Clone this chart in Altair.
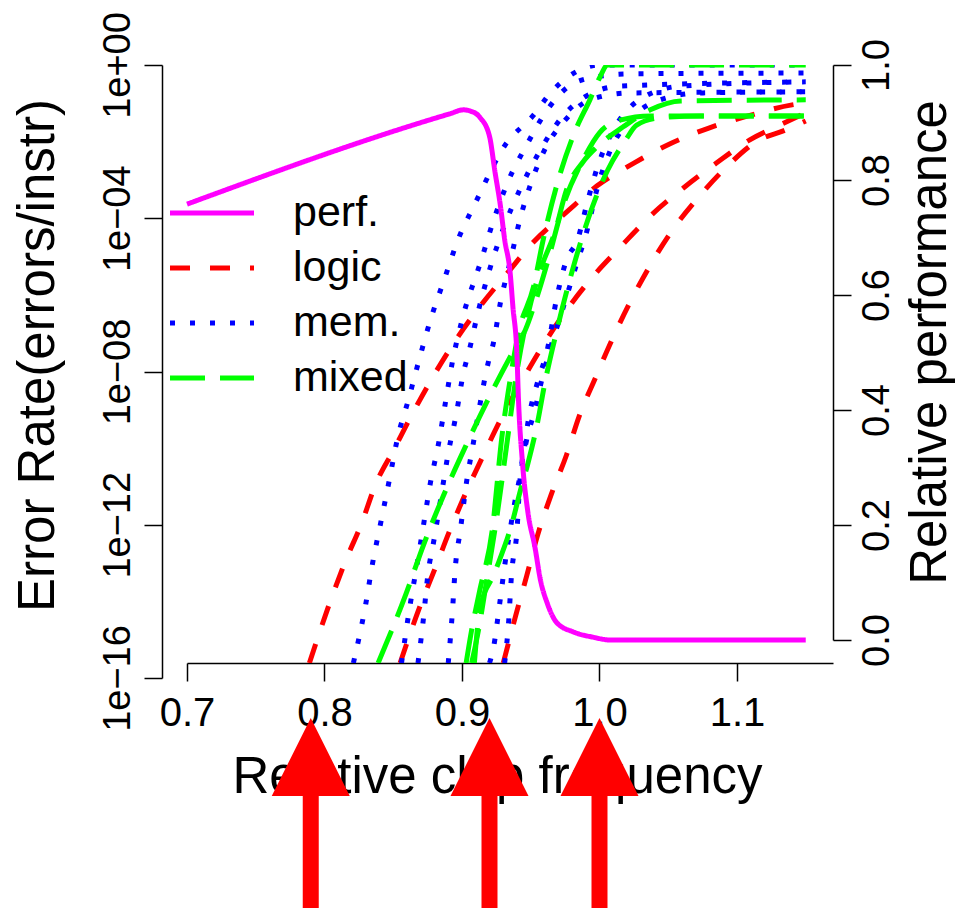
import altair as alt
import pandas as pd
import math

FONT = "Liberation Sans"

# ---------------- data ----------------
# x = relative chip frequency, e = log10(error rate in errors/instr)
logic1_x = [0.789, 0.804, 0.815, 0.827, 0.837, 0.851, 0.865, 0.880, 0.896, 0.914, 0.933, 0.952, 0.976, 0.998, 1.025, 1.051, 1.080, 1.108, 1.140, 1.150]
logic1_e = [-15.61, -14.02, -12.97, -11.96, -10.96, -10.00, -9.03, -8.07, -7.15, -6.26, -5.43, -4.62, -3.84, -3.16, -2.56, -2.06, -1.64, -1.33, -1.04, -0.99]

logic2_x = [0.855, 0.869, 0.880, 0.891, 0.903, 0.916, 0.929, 0.942, 0.959, 0.976, 0.995, 1.016, 1.037, 1.061, 1.085, 1.109, 1.131, 1.150]
logic2_e = [-15.61, -14.17, -13.18, -12.16, -11.15, -10.15, -9.19, -8.35, -7.31, -6.40, -5.53, -4.72, -3.94, -3.21, -2.56, -1.96, -1.57, -1.25]

logic3_x = [0.930, 0.939, 0.947, 0.955, 0.965, 0.976, 0.985, 0.997, 1.009, 1.022, 1.037, 1.053, 1.072, 1.093, 1.115, 1.135, 1.150]
logic3_e = [-15.61, -14.38, -13.34, -12.27, -11.20, -10.18, -9.19, -8.17, -7.18, -6.21, -5.22, -4.31, -3.45, -2.64, -1.98, -1.70, -1.46]

mem1_x = [0.821, 0.830, 0.835, 0.841, 0.847, 0.853, 0.861, 0.869, 0.877, 0.887, 0.897, 0.910, 0.931, 0.952, 0.965, 0.976, 0.989, 1.000, 1.150]
mem1_e = [-15.61, -14.07, -13.00, -11.93, -10.86, -9.76, -8.74, -7.67, -6.66, -5.61, -4.57, -3.58, -2.11, -1.31, -0.70, -0.34, -0.08, 0.0, 0.0]

mem2_x = [0.856, 0.862, 0.867, 0.872, 0.877, 0.883, 0.888, 0.893, 0.900, 0.914, 0.923, 0.933, 0.947, 0.962, 0.976, 0.993, 1.022, 1.150]
mem2_e = [-15.61, -14.15, -13.10, -12.01, -10.91, -9.87, -8.80, -7.75, -6.66, -5.09, -4.05, -3.08, -2.09, -1.17, -0.60, -0.34, -0.23, -0.21]

mem3_x = [0.868, 0.872, 0.875, 0.880, 0.885, 0.890, 0.896, 0.901, 0.905, 0.912, 0.920, 0.931, 0.942, 0.957, 0.971, 0.989, 1.015, 1.150]
mem3_e = [-15.61, -14.43, -13.36, -12.32, -11.22, -10.13, -9.08, -8.04, -7.49, -6.40, -5.35, -4.18, -3.26, -2.22, -1.44, -0.84, -0.55, -0.44]

mem4_x = [0.890, 0.893, 0.895, 0.899, 0.903, 0.908, 0.913, 0.919, 0.923, 0.928, 0.935, 0.942, 0.951, 0.960, 0.975, 0.993, 1.022, 1.150]
mem4_e = [-15.61, -14.28, -13.18, -12.09, -10.96, -9.92, -8.87, -7.78, -7.23, -6.19, -5.14, -4.05, -3.00, -2.22, -1.44, -0.91, -0.73, -0.70]

mem5_x = [0.920, 0.923, 0.927, 0.931, 0.938, 0.944, 0.948, 0.955, 0.962, 0.969, 0.976, 0.984, 0.991, 0.999, 1.011, 1.029, 1.059, 1.150]
mem5_e = [-15.61, -15.19, -14.17, -13.08, -11.49, -10.36, -9.32, -8.27, -7.44, -6.06, -5.09, -4.57, -3.60, -2.61, -1.64, -0.91, -0.55, -0.44]

mem6_x = [0.931, 0.934, 0.936, 0.940, 0.942, 0.947, 0.953, 0.958, 0.965, 0.973, 0.982, 0.991, 0.999, 1.008, 1.022, 1.044, 1.073, 1.150]
mem6_e = [-15.61, -14.49, -13.31, -12.14, -10.91, -9.79, -9.01, -8.22, -7.31, -6.40, -5.35, -4.31, -3.13, -2.22, -1.44, -0.91, -0.73, -0.70]

mixed1_x = [0.839, 0.859, 0.872, 0.886, 0.902, 0.918, 0.935, 0.946, 0.955, 0.963, 0.973, 0.988, 1.000, 1.015, 1.037, 1.150]
mixed1_e = [-15.61, -13.83, -12.53, -11.28, -10.00, -8.80, -7.62, -6.92, -6.00, -5.04, -3.73, -2.48, -1.77, -1.44, -1.33, -1.33]

mixed2_x = [0.903, 0.907, 0.913, 0.922, 0.929, 0.935, 0.941, 0.952, 0.959, 0.969, 0.982, 0.993, 1.000, 1.006, 1.150]
mixed2_e = [-15.61, -14.75, -13.70, -12.14, -9.71, -8.22, -7.00, -5.79, -4.57, -3.13, -1.75, -0.91, -0.34, 0.0, 0.0]

mixed3_x = [0.907, 0.912, 0.918, 0.925, 0.933, 0.939, 0.947, 0.957, 0.968, 0.976, 0.988, 0.998, 1.017, 1.037, 1.059, 1.150]
mixed3_e = [-15.61, -14.75, -13.44, -11.88, -9.79, -8.22, -6.66, -5.35, -4.31, -3.26, -2.53, -2.14, -1.62, -1.17, -0.94, -0.91]

mixed4_x = [0.909, 0.913, 0.924, 0.937, 0.942, 0.948, 0.955, 0.960, 0.969, 0.981, 0.992, 1.006, 1.019, 1.027, 1.044, 1.073, 1.150]
mixed4_e = [-15.61, -14.22, -13.23, -11.88, -11.17, -10.39, -9.32, -8.35, -6.92, -5.27, -3.99, -2.74, -1.96, -1.57, -1.38, -1.33, -1.33]

# relative performance (right axis)
perf_x = [0.700, 0.891, 0.901, 0.906, 0.913, 0.920, 0.924, 0.928, 0.931, 0.935, 0.937, 0.940, 0.941, 0.944, 0.948, 0.953, 0.957, 0.962, 0.969, 0.981, 0.995, 1.008, 1.150]
perf_y = [0.758, 0.915, 0.922, 0.920, 0.909, 0.876, 0.814, 0.754, 0.697, 0.639, 0.580, 0.493, 0.423, 0.308, 0.221, 0.162, 0.105, 0.064, 0.030, 0.014, 0.005, 0.000, 0.000]

# annotation arrows (frequency positions)
arrow_x = [0.79, 0.92, 1.00]

# axes
x_ticks = [0.7, 0.8, 0.9, 1.0, 1.1]
y_ticks = [1e0, 1e-4, 1e-8, 1e-12, 1e-16]
y_tick_labels = ["1e+00", "1e\u221204", "1e\u221208", "1e\u221212", "1e\u221216"]
perf_ticks = [0.0, 0.2, 0.4, 0.6, 0.8, 1.0]

types = ["perf.", "logic", "mem.", "mixed"]
colors = ["#FF00FF", "#FF0000", "#0000FF", "#00FF00"]
dashes = [[1, 0], [20, 20], [5, 15], [35, 15]]

curves = [
    ("logic", "logic1", logic1_x, logic1_e),
    ("logic", "logic2", logic2_x, logic2_e),
    ("logic", "logic3", logic3_x, logic3_e),
    ("mem.", "mem1", mem1_x, mem1_e),
    ("mem.", "mem2", mem2_x, mem2_e),
    ("mem.", "mem3", mem3_x, mem3_e),
    ("mem.", "mem4", mem4_x, mem4_e),
    ("mem.", "mem5", mem5_x, mem5_e),
    ("mem.", "mem6", mem6_x, mem6_e),
    ("mixed", "mixed1", mixed1_x, mixed1_e),
    ("mixed", "mixed2", mixed2_x, mixed2_e),
    ("mixed", "mixed3", mixed3_x, mixed3_e),
    ("mixed", "mixed4", mixed4_x, mixed4_e),
]

rows = []
for typ, cid, xs, es in curves:
    for i, (xv, ev) in enumerate(zip(xs, es)):
        rows.append({"type": typ, "curve": cid, "freq": xv, "err": 10.0 ** ev, "i": i})
err_df = pd.DataFrame(rows)
perf_df = pd.DataFrame({"type": ["perf."] * len(perf_x), "freq": perf_x, "perf": perf_y})
arrow_df = pd.DataFrame({"freq": arrow_x})

# label expression for the log axis built from the tick lists
parts = []
for v, lab in zip(y_ticks, y_tick_labels):
    e = int(round(math.log10(v)))
    parts.append(f"round(log(datum.value)/LN10) == {e} ? '{lab}'")
y_label_expr = " : ".join(parts) + " : ''"

# ---------------- encodings ----------------
x_enc = alt.X(
    "freq:Q",
    scale=alt.Scale(domain=[0.7, 1.16982], range=[25, 671], nice=False, zero=False),
    axis=alt.Axis(
        values=x_ticks, format=".1f", title="Relative chip frequency",
        labelFontSize=40, labelPadding=12, tickSize=18,
        titleFontSize=51, titleX=335, titleY=129, titleBaseline="alphabetic",
        titleAlign="center",
    ),
)

y_err = alt.Y(
    "err:Q",
    scale=alt.Scale(type="log", domain=[1e-16, 1], range=[613, 0], nice=False),
    axis=alt.Axis(
        orient="left", values=y_ticks, labelExpr=y_label_expr,
        labelAngle=270, labelAlign="center", labelBaseline="alphabetic",
        labelPadding=15, labelFontSize=38, tickSize=18,
        title="Error Rate(errors/instr)", titleAngle=270, titleAlign="center",
        titleBaseline="alphabetic", titleX=-109, titleY=290, titleFontSize=51,
    ),
)

y_perf = alt.Y(
    "perf:Q",
    scale=alt.Scale(domain=[0, 1], range=[575, 0], nice=False, zero=False),
    axis=alt.Axis(
        orient="right", values=perf_ticks, format=".1f",
        labelAngle=270, labelAlign="center", labelBaseline="alphabetic",
        labelPadding=37, labelFontSize=38, tickSize=18,
        title="Relative performance", titleAngle=270, titleAlign="center",
        titleBaseline="alphabetic", titleX=112, titleY=277, titleFontSize=51,
    ),
)

# legend: a wide horizontal stroke symbol (path scaled by sqrt(size)/2)
legend = alt.Legend(
    title=None, orient="none", legendX=26.5, legendY=124.5,
    symbolType="M-2,0L2,0", symbolSize=1764, symbolStrokeWidth=5,
    labelFontSize=43, labelOffset=57.5, rowPadding=9, padding=0,
    labelFont=FONT, labelColor="black",
)
color = alt.Color("type:N", scale=alt.Scale(domain=types, range=colors), legend=legend)
dash = alt.StrokeDash("type:N", scale=alt.Scale(domain=types, range=dashes), legend=legend)


def err_layer(t):
    return (
        alt.Chart(err_df)
        .transform_filter(alt.datum.type == t)
        .mark_line(strokeWidth=5, clip=True, interpolate="monotone", strokeCap="butt")
        .encode(x=x_enc, y=y_err, color=color, strokeDash=dash,
                detail="curve:N", order="i:Q")
    )


errors = alt.layer(err_layer("logic"), err_layer("mem."), err_layer("mixed"))

perf = (
    alt.Chart(perf_df)
    .mark_line(strokeWidth=5, interpolate="monotone")
    .encode(x=x_enc, y=y_perf, color=color, strokeDash=dash)
)

shafts = (
    alt.Chart(arrow_df)
    .mark_rule(color="#FF0000", strokeWidth=16)
    .encode(x=x_enc, y=alt.value(730), y2=alt.value(850))
)
heads = (
    alt.Chart(arrow_df)
    .mark_point(shape="M0,-1L1,1L-1,1Z", size=6084, filled=True, opacity=1,
                color="#FF0000", strokeWidth=0)
    .encode(x=x_enc, y=alt.value(692))
)

chart = (
    alt.layer(errors, perf, shafts, heads)
    .resolve_scale(y="independent")
    .properties(
        width=671, height=598,
        autosize=alt.AutoSizeParams(type="none"),
        padding={"left": 162, "top": 65, "right": 122, "bottom": 245},
    )
    .configure(font=FONT)
    .configure_view(strokeWidth=0)
    .configure_axis(
        grid=False, domainColor="black", tickColor="black", labelColor="black",
        titleColor="black", domainWidth=1.5, tickWidth=1.5, labelFlush=False,
        labelOverlap=False, labelFont=FONT, titleFont=FONT, titleFontWeight="normal",
    )
)

chart.save("out.html", embed_options={"renderer": "svg", "actions": False})
